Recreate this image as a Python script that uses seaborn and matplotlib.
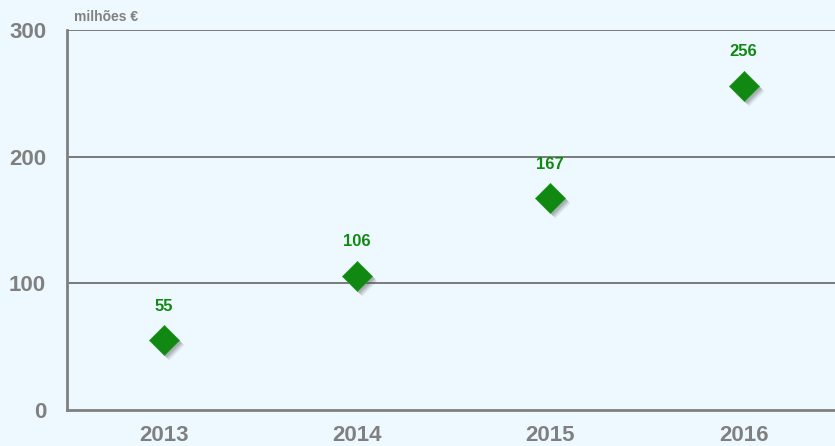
import matplotlib
matplotlib.use("Agg")
import matplotlib.pyplot as plt
import matplotlib.transforms as mtransforms
import seaborn as sns
import pandas as pd

years = ["2013", "2014", "2015", "2016"]
values = [55, 106, 167, 256]
y_ticks = [0, 100, 200, 300]
unit_label = "milhões €"

bg = "#eef9ff"
grey = "#808080"
green = "#118811"

df = pd.DataFrame({"ano": years, "valor": values})

sns.set_style("white")
plt.rcParams["font.family"] = ["Liberation Sans", "DejaVu Sans"]
fig = plt.figure(figsize=(8.35, 4.46), dpi=100, facecolor=bg)
ax = fig.add_axes([0.0802, 0.0807, 0.926, 0.852])
ax.set_facecolor(bg)

# soft shadow under the diamonds
for dx, dy, a in [(5, -5, 0.08), (4, -4, 0.12), (3, -3, 0.15), (2, -2, 0.18)]:
    shadow = mtransforms.offset_copy(ax.transData, fig=fig, x=dx, y=dy, units="dots")
    ax.plot(range(len(years)), values, "D", ms=15, color="#555555", alpha=a,
            mec="none", transform=shadow, zorder=3)

sns.scatterplot(data=df, x="ano", y="valor", marker="D", s=235, color=green,
                edgecolor="#2a9a2a", linewidth=0.5, ax=ax, zorder=4, legend=False)

for i, v in enumerate(values):
    ax.annotate(str(v), (i, v), xytext=(0, 19), textcoords="offset points",
                ha="center", va="bottom", color=green, fontsize=12, fontweight="bold")

ax.set_xlim(-0.5, 3.5)
ax.set_ylim(0, 300)
ax.set_yticks(y_ticks)
ax.set_yticklabels([str(t) for t in y_ticks], color=grey, fontsize=16, fontweight="bold")
ax.set_xticks(range(len(years)))
ax.set_xticklabels(years, color=grey, fontsize=16, fontweight="bold")
ax.tick_params(axis="x", length=0, pad=11)
ax.tick_params(axis="y", length=0, pad=15)
ax.set_xticks([0.5, 1.5, 2.5], minor=True)
ax.tick_params(axis="x", which="minor", length=5, color=grey, width=1.5, direction="out")
ax.set_xlabel("")
ax.set_ylabel("")

for t in [100, 200, 300]:
    ax.axhline(t, color="#707070", lw=1.3, zorder=1)

for s in ["top", "right"]:
    ax.spines[s].set_visible(False)
for s in ["left", "bottom"]:
    ax.spines[s].set_color(grey)
    ax.spines[s].set_linewidth(2)

fig.text(0.089, 0.962, unit_label, color=grey, fontsize=10, fontweight="bold",
         ha="left", va="center")

fig.savefig("out.png", dpi=100, facecolor=bg)
